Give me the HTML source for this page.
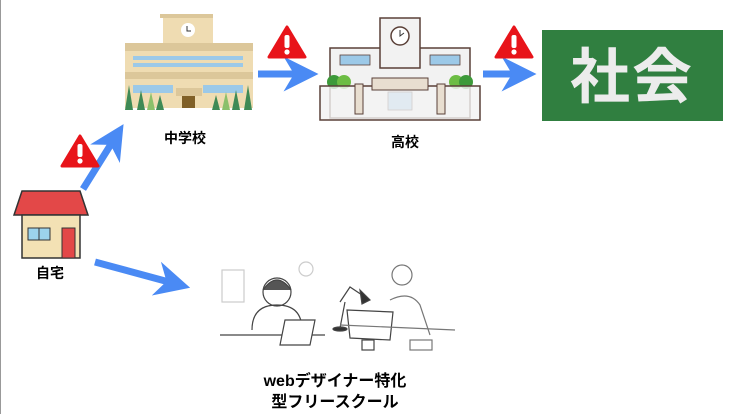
<!DOCTYPE html>
<html><head><meta charset="utf-8"><style>
html,body{margin:0;padding:0;background:#fff;width:736px;height:414px;overflow:hidden}
svg{display:block}
text{font-family:"Liberation Sans","Noto Sans CJK JP",sans-serif;font-weight:bold}
</style></head><body>
<svg width="736" height="414" viewBox="0 0 736 414">
<defs>
<g id="warn"><path d="M0,-16 L18,14 L-18,14 Z" fill="#e8141a" stroke="#e8141a" stroke-width="3" stroke-linejoin="round"/><rect x="-2.5" y="-8" width="5" height="13" rx="2" fill="#fff"/><circle cx="0" cy="9" r="2.6" fill="#fff"/></g>
<marker id="ah" viewBox="0 0 10 10" refX="7" refY="5" markerWidth="5" markerHeight="5.5" orient="auto"><path d="M0,0 L10,5 L0,10 L3,5 Z" fill="#4a8af4"/></marker>
</defs>
<line x1="0.5" y1="0" x2="0.5" y2="414" stroke="#999"/>
<!-- middle school -->
<rect x="163" y="15" width="50" height="30" fill="#efdcb2"/><rect x="160" y="14" width="53" height="4" fill="#dcc79a"/>
<circle cx="188" cy="30" r="7" fill="#fff"/><path d="M187,26 L187,31 L191,31" stroke="#333" fill="none"/>
<rect x="125" y="43" width="128" height="65" fill="#efdcb2"/><rect x="125" y="43" width="128" height="8" fill="#dcc79a"/><rect x="125" y="72" width="128" height="7" fill="#dcc79a"/>
<g fill="#9cc9e8"><rect x="133" y="56" width="110" height="4"/><rect x="133" y="63" width="110" height="4"/><rect x="133" y="85" width="40" height="8"/><rect x="203" y="85" width="40" height="8"/></g>
<rect x="176" y="88" width="26" height="8" fill="#dcc79a"/><rect x="182" y="96" width="13" height="12" fill="#806028"/>
<g fill="#3f8a55"><path d="M129,85 l-4,25 h8z"/><path d="M141,90 l-4,20 h8z"/><path d="M151,92 l-4,18 h8z" fill="#8bc06a"/><path d="M160,95 l-4,15 h8z"/><path d="M216,95 l-4,15 h8z"/><path d="M226,92 l-4,18 h8z" fill="#8bc06a"/><path d="M236,90 l-4,20 h8z"/><path d="M248,85 l-4,25 h8z"/></g>
<text x="185" y="143" font-size="14" text-anchor="middle">中学校</text>
<!-- high school -->
<rect x="330" y="48" width="140" height="70" fill="#f2f2f2" stroke="#5a4038" stroke-width="1.5"/>
<rect x="380" y="18" width="40" height="50" fill="#f2f2f2" stroke="#5a4038" stroke-width="1.5"/>
<circle cx="400" cy="36" r="9" fill="#fff" stroke="#5a4038" stroke-width="1.5"/><path d="M400,30 L400,36 L404,33" stroke="#333" fill="none"/>
<g fill="#9cc9e8" stroke="#5a4038" stroke-width="0.8"><rect x="340" y="55" width="30" height="10"/><rect x="430" y="55" width="30" height="10"/><rect x="388" y="92" width="24" height="18"/></g>
<circle cx="334" cy="82" r="7" fill="#3d9a3a"/><circle cx="344" cy="82" r="7" fill="#6cbd44"/><circle cx="456" cy="82" r="7" fill="#6cbd44"/><circle cx="466" cy="82" r="7" fill="#3d9a3a"/>
<rect x="320" y="86" width="160" height="34" fill="#f2f2f2" stroke="#5a4038" stroke-width="1.5" fill-opacity="0.8"/>
<rect x="355" y="84" width="8" height="30" fill="#e8ded0" stroke="#5a4038"/><rect x="437" y="84" width="8" height="30" fill="#e8ded0" stroke="#5a4038"/>
<rect x="372" y="78" width="56" height="12" fill="#e8ded0" stroke="#5a4038"/>
<text x="405" y="147" font-size="14" text-anchor="middle">高校</text>
<!-- society -->
<rect x="542" y="30" width="181" height="91" fill="#307f40"/>
<text x="632" y="98" font-size="60" fill="#ececec" text-anchor="middle" style="letter-spacing:2px">社会</text>
<!-- house -->
<path d="M22,191 L80,191 L88,215 L14,215 Z" fill="#e34848" stroke="#333" stroke-width="1.5"/>
<rect x="22" y="215" width="58" height="43" fill="#f3e1b4" stroke="#333" stroke-width="1.5"/>
<rect x="28" y="228" width="22" height="12" fill="#9cd3ec" stroke="#333"/><line x1="39" y1="228" x2="39" y2="240" stroke="#333"/>
<rect x="62" y="228" width="13" height="30" fill="#e34848" stroke="#333"/>
<text x="50" y="278" font-size="14" text-anchor="middle">自宅</text>
<!-- arrows -->
<g stroke="#4a8af4" stroke-width="7" fill="none" marker-end="url(#ah)">
<line x1="83" y1="189" x2="118" y2="133"/>
<line x1="258" y1="74" x2="308" y2="74"/>
<line x1="483" y1="74" x2="526" y2="74"/>
<line x1="95" y1="262" x2="180" y2="285"/>
</g>
<use href="#warn" x="80" y="152"/><use href="#warn" x="287" y="43"/><use href="#warn" x="514" y="43"/>
<!-- illustrations -->
<g stroke="#444" stroke-width="1.2" fill="none">
<rect x="222" y="270" width="22" height="32" stroke="#ccc"/><circle cx="306" cy="269" r="7" stroke="#ccc"/>
<circle cx="277" cy="292" r="14" fill="#fff"/><path d="M263,290 q14,-20 28,0" fill="#555"/>
<path d="M252,330 q0,-25 25,-25 q25,0 25,25"/><line x1="220" y1="335" x2="325" y2="335"/>
<path d="M285,320 L315,320 L310,345 L280,345 Z" fill="#fff"/>
<circle cx="402" cy="275" r="10" stroke="#777"/><path d="M390,300 q20,-10 30,5 l10,30" stroke="#777"/>
<path d="M340,302 l10,-15 l12,8" /><path d="M360,290 l10,10 l-8,4z" fill="#333"/><ellipse cx="340" cy="329" rx="7" ry="2" fill="#333"/><line x1="345" y1="302" x2="340" y2="328"/>
<path d="M347,310 L393,312 L390,340 L350,338 Z" fill="#fff"/><rect x="362" y="340" width="12" height="10"/>
<line x1="340" y1="325" x2="455" y2="330" stroke="#777"/><rect x="410" y="340" width="22" height="10" stroke="#777"/>
</g>
<text x="335" y="386" font-size="16" text-anchor="middle">webデザイナー特化</text>
<text x="335" y="407" font-size="16" text-anchor="middle">型フリースクール</text>
</svg>
</body></html>
